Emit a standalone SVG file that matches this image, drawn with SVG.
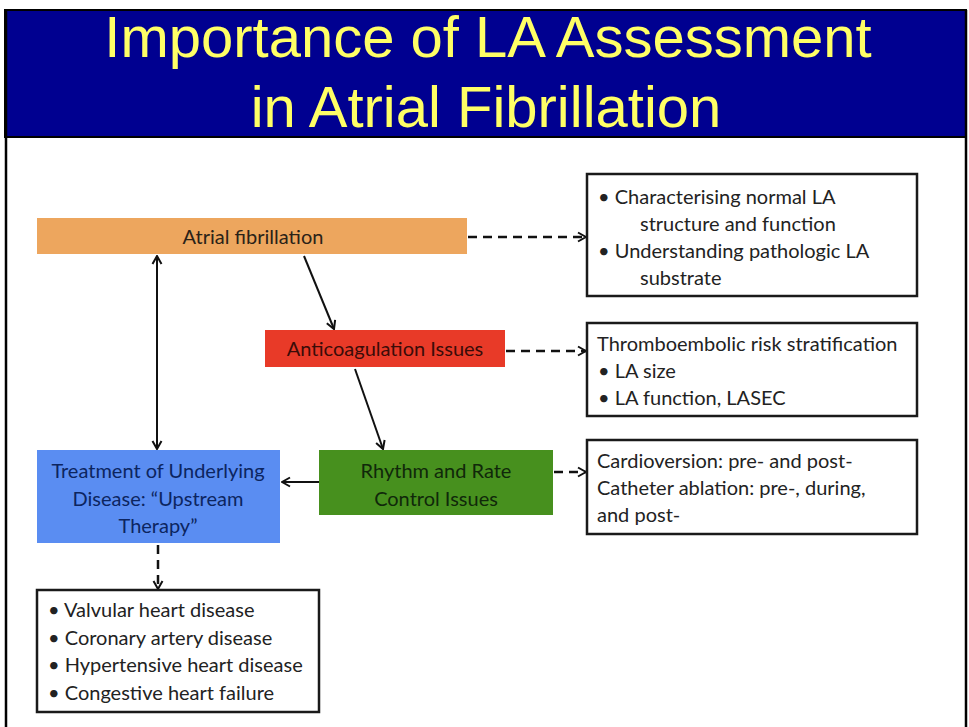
<svg xmlns="http://www.w3.org/2000/svg" width="969" height="727" viewBox="0 0 969 727">
<defs>
<style>
.title{font-family:"Liberation Sans",Arial,sans-serif;font-size:58px;fill:#FFFF66;text-anchor:middle}
.nt{font-family:Lato,"Open Sans",sans-serif;font-size:20px;text-anchor:middle}
.bt{font-family:Lato,"Open Sans",sans-serif;font-size:20px;fill:#222}
.box{fill:#fff;stroke:#1a1a1a;stroke-width:2.5}
.conn{stroke:#111;stroke-width:2;fill:none}
.dash{stroke-width:2.5;stroke-dasharray:9 6}
</style>
<marker id="ah" viewBox="0 0 12 12" refX="11" refY="6" markerWidth="12" markerHeight="12" markerUnits="userSpaceOnUse" orient="auto-start-reverse">
<path d="M3,1.5 L11,6 L3,10.5" fill="none" stroke="#111" stroke-width="2"/>
</marker>
</defs>
<rect x="0" y="0" width="969" height="727" fill="#fff"/>
<g id="frame">
<rect x="5" y="10" width="961" height="127" fill="#000090" stroke="#000" stroke-width="2"/>
<line x1="6" y1="10" x2="6" y2="727" stroke="#000" stroke-width="2.5"/>
<line x1="966" y1="10" x2="966" y2="727" stroke="#000" stroke-width="2.5"/>
<text class="title" x="488" y="57">Importance of LA Assessment</text>
<text class="title" x="486" y="127">in Atrial Fibrillation</text>
</g>
<g id="connectors">
<line class="conn dash" x1="468" y1="237" x2="586" y2="237" marker-end="url(#ah)"/>
<line class="conn dash" x1="506" y1="351" x2="586" y2="351" marker-end="url(#ah)"/>
<line class="conn dash" x1="554" y1="472" x2="586" y2="472" marker-end="url(#ah)"/>
<line class="conn dash" x1="158" y1="545" x2="158" y2="589" marker-end="url(#ah)"/>
<line class="conn" x1="304" y1="256" x2="334" y2="329" marker-end="url(#ah)"/>
<line class="conn" x1="355" y1="369" x2="383" y2="449" marker-end="url(#ah)"/>
<line class="conn" x1="157" y1="256" x2="157" y2="449" marker-start="url(#ah)" marker-end="url(#ah)"/>
<line class="conn" x1="319" y1="482" x2="282" y2="482" marker-end="url(#ah)"/>
</g>
<g id="atrial-fibrillation">
<rect x="37" y="218" width="430" height="36" fill="#EDA65E"/>
<text class="nt" x="253" y="244" fill="#2a2218">Atrial fibrillation</text>
</g>
<g id="anticoagulation">
<rect x="265" y="330" width="240" height="37" fill="#E83A28"/>
<text class="nt" x="385" y="356" fill="#3a0c08">Anticoagulation Issues</text>
</g>
<g id="rhythm-rate">
<rect x="319" y="450" width="234" height="65" fill="#47901E"/>
<text class="nt" x="436" y="478" fill="#10280a">Rhythm and Rate</text>
<text class="nt" x="436" y="506" fill="#10280a">Control Issues</text>
</g>
<g id="treatment">
<rect x="37" y="450" width="243" height="93" fill="#5A8DF2"/>
<text class="nt" x="158" y="478" fill="#0c2560">Treatment of Underlying</text>
<text class="nt" x="158" y="506" fill="#0c2560">Disease: “Upstream</text>
<text class="nt" x="158" y="533" fill="#0c2560">Therapy”</text>
</g>
<g id="la-structure">
<rect class="box" x="587" y="174" width="330" height="122"/>
<text class="bt" x="598" y="204">• Characterising normal LA</text>
<text class="bt" x="640" y="231">structure and function</text>
<text class="bt" x="598" y="258">• Understanding pathologic LA</text>
<text class="bt" x="640" y="285">substrate</text>
</g>
<g id="thromboembolic">
<rect class="box" x="587" y="323" width="330" height="93"/>
<text class="bt" x="597" y="351">Thromboembolic risk stratification</text>
<text class="bt" x="598" y="378">• LA size</text>
<text class="bt" x="598" y="405">• LA function, LASEC</text>
</g>
<g id="cardioversion">
<rect class="box" x="587" y="440" width="330" height="94"/>
<text class="bt" x="597" y="468">Cardioversion: pre- and post-</text>
<text class="bt" x="597" y="495">Catheter ablation: pre-, during,</text>
<text class="bt" x="597" y="522">and post-</text>
</g>
<g id="diseases">
<rect class="box" x="37" y="590" width="282" height="122"/>
<text class="bt" x="48" y="617">• Valvular heart disease</text>
<text class="bt" x="48" y="645">• Coronary artery disease</text>
<text class="bt" x="48" y="672">• Hypertensive heart disease</text>
<text class="bt" x="48" y="700">• Congestive heart failure</text>
</g>
</svg>
